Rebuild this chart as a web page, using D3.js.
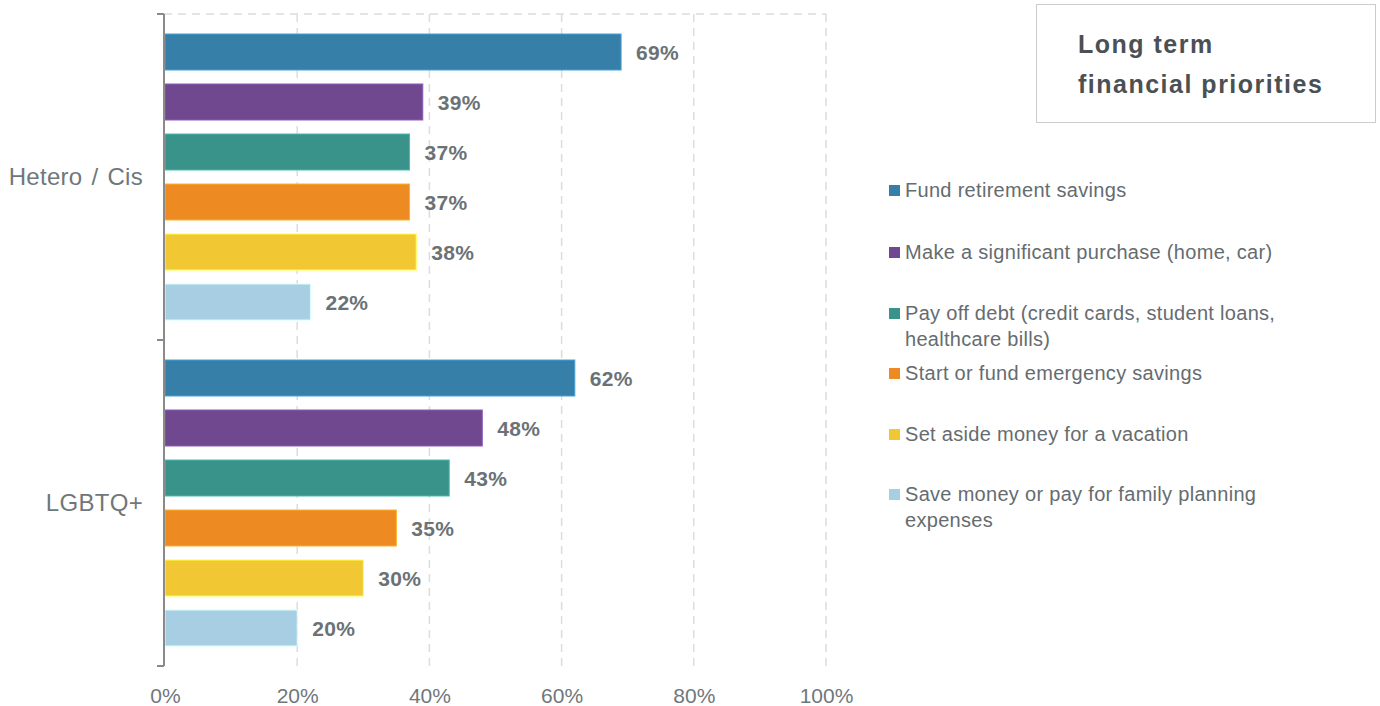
<!DOCTYPE html>
<html>
<head>
<meta charset="utf-8">
<script src="https://cdn.jsdelivr.net/npm/d3@7"></script>
<style>
  body { margin: 0; background: #fff; }
  svg { display: block; font-family: "Liberation Sans", Arial, sans-serif; }
</style>
</head>
<body>
<svg id="chart" width="1380" height="706"></svg>
<script>
// Respondent groups and the priorities asked about
const groups = ["Hetero / Cis", "LGBTQ+"];
const priorities = [
  "Fund retirement savings",
  "Make a significant purchase (home, car)",
  "Pay off debt (credit cards, student loans, healthcare bills)",
  "Start or fund emergency savings",
  "Set aside money for a vacation",
  "Save money or pay for family planning expenses"
];
// Share of respondents (%) naming each priority, in priority order
const heteroValues = [69, 39, 37, 37, 38, 22];
const lgbtqValues = [62, 48, 43, 35, 30, 20];
const xTicks = [0, 20, 40, 60, 80, 100];
const legendLines = [
  ["Fund retirement savings"],
  ["Make a significant purchase (home, car)"],
  ["Pay off debt (credit cards, student loans,", "healthcare bills)"],
  ["Start or fund emergency savings"],
  ["Set aside money for a vacation"],
  ["Save money or pay for family planning", "expenses"]
];
const colors = ["#367fa9", "#6f4890", "#39938a", "#ee8a22", "#f1c733", "#a7cee3"];
const titleLines = ["Long term", "financial priorities"];

const svg = d3.select("#chart");
const plot = { left: 164, right: 826, top: 14, bottom: 666 };

const x = d3.scaleLinear().domain([0, 100]).range([plot.left + 1, plot.right]);
const yGroup = d3.scaleBand().domain(groups).range([plot.top, plot.bottom]).padding(0);
const yBar = d3.scaleBand().domain(priorities)
  .range([0, yGroup.bandwidth()]).paddingInner(0.28).paddingOuter(0.4);
const color = d3.scaleOrdinal().domain(priorities).range(colors);

const rows = [];
groups.forEach((g, gi) => {
  const vals = gi === 0 ? heteroValues : lgbtqValues;
  priorities.forEach((p, i) => rows.push({ group: g, priority: p, value: vals[i] }));
});

// dashed grid
const grid = svg.append("g");
grid.selectAll("line.v").data(xTicks.filter(d => d > 0)).join("line")
  .attr("x1", d => x(d)).attr("x2", d => x(d))
  .attr("y1", plot.top).attr("y2", plot.bottom)
  .attr("stroke", "#dcdcdc").attr("stroke-width", 1.5).attr("stroke-dasharray", "8,6");
grid.append("line")
  .attr("x1", plot.left).attr("x2", plot.right)
  .attr("y1", plot.top).attr("y2", plot.top)
  .attr("stroke", "#dcdcdc").attr("stroke-width", 1.5).attr("stroke-dasharray", "8,6");

// bars
svg.append("g").selectAll("rect").data(rows).join("rect")
  .attr("x", x(0))
  .attr("y", d => yGroup(d.group) + yBar(d.priority))
  .attr("width", d => x(d.value) - x(0))
  .attr("height", yBar.bandwidth())
  .attr("fill", d => color(d.priority))
  .attr("stroke", d => d3.color(color(d.priority)).brighter(0.7))
  .attr("stroke-width", 1);

// value labels
svg.append("g").selectAll("text").data(rows).join("text")
  .attr("x", d => x(d.value) + 15)
  .attr("y", d => yGroup(d.group) + yBar(d.priority) + yBar.bandwidth() / 2)
  .attr("dy", "0.36em")
  .attr("fill", "#6b7276")
  .attr("font-size", 21)
  .attr("font-weight", "bold")
  .style("letter-spacing", "0.3px")
  .text(d => d.value + "%");

// y axis: line, boundary ticks, group labels
const yAxis = svg.append("g").attr("transform", `translate(${plot.left},0)`)
  .call(d3.axisLeft(yGroup).tickSize(0).tickPadding(21));
yAxis.select(".domain").remove();
yAxis.selectAll("text")
  .attr("fill", "#70777b").attr("font-size", 24)
  .style("word-spacing", "2px")
  .style("letter-spacing", "0.3px")
  .attr("font-family", "\"Liberation Sans\", Arial, sans-serif");
svg.append("line")
  .attr("x1", plot.left).attr("x2", plot.left)
  .attr("y1", plot.top).attr("y2", plot.bottom)
  .attr("stroke", "#8a8a8a").attr("stroke-width", 2);
const bounds = [plot.top, yGroup(groups[1]), plot.bottom];
svg.append("g").selectAll("line").data(bounds).join("line")
  .attr("x1", plot.left - 7).attr("x2", plot.left)
  .attr("y1", d => d).attr("y2", d => d)
  .attr("stroke", "#8a8a8a").attr("stroke-width", 2);

// x axis labels
const xAxis = svg.append("g").attr("transform", `translate(0,${plot.bottom})`)
  .call(d3.axisBottom(x).tickValues(xTicks).tickFormat(d => d + "%").tickSize(0).tickPadding(22));
xAxis.select(".domain").remove();
xAxis.selectAll("text")
  .attr("fill", "#70777b").attr("font-size", 21)
  .attr("font-family", "\"Liberation Sans\", Arial, sans-serif");

// title box
svg.append("rect")
  .attr("x", 1036.5).attr("y", 4.5).attr("width", 339).attr("height", 118)
  .attr("fill", "#fff").attr("stroke", "#cccccc").attr("stroke-width", 1);
svg.append("g").selectAll("text").data(titleLines).join("text")
  .attr("x", 1078).attr("y", (d, i) => 53 + i * 40)
  .attr("fill", "#4b5054").attr("font-size", 25).attr("font-weight", "bold")
  .style("letter-spacing", "1.5px")
  .text(d => d);

// legend
const legendY = [190, 252, 313, 373, 434, 494];
const legend = svg.append("g").selectAll("g").data(priorities).join("g")
  .attr("transform", (d, i) => `translate(889,${legendY[i]})`);
legend.append("rect")
  .attr("x", 0).attr("y", -5).attr("width", 11).attr("height", 11)
  .attr("fill", d => color(d));
legend.each(function (d, i) {
  d3.select(this).selectAll("text").data(legendLines[i]).join("text")
    .attr("x", 16).attr("y", (t, j) => j * 26)
    .attr("dy", "0.36em")
    .attr("fill", "#656c70").attr("font-size", 20)
    .style("letter-spacing", "0.3px")
    .text(t => t);
});
</script>
</body>
</html>
